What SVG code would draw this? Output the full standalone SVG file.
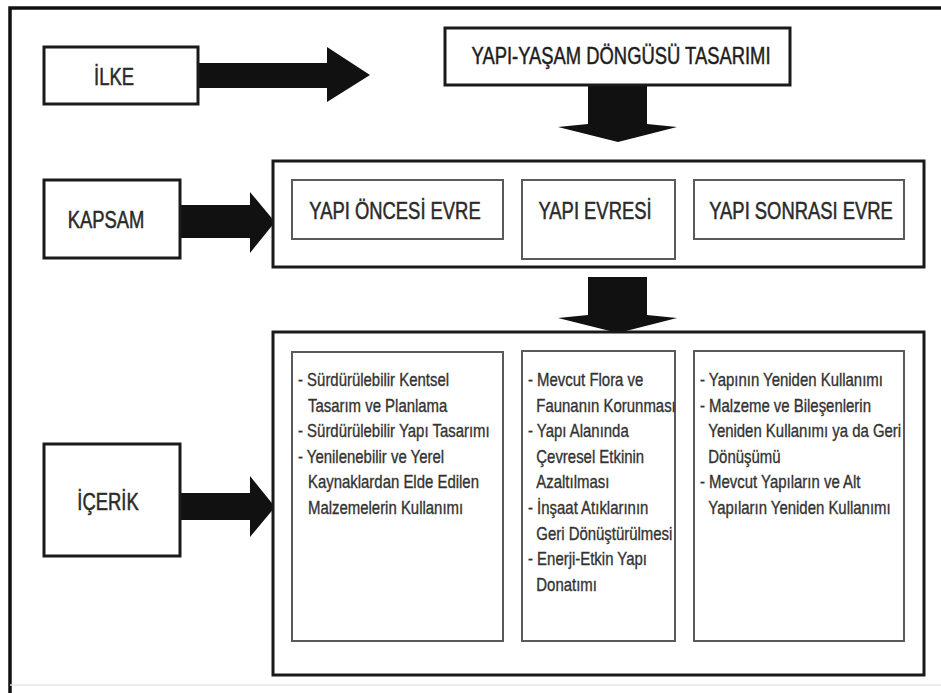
<svg xmlns="http://www.w3.org/2000/svg" width="941" height="693" viewBox="0 0 941 693">
<style>
.box{fill:#fff;stroke:#1a1a1a;stroke-width:3}
.inner{fill:#fff;stroke:#5a5a5a;stroke-width:2}
.arrow{fill:#111;stroke:none}
.h{font-family:"Liberation Sans",Arial,sans-serif;font-size:23px;fill:#2a2a2a;stroke:#2a2a2a;stroke-width:0.5;text-anchor:middle}
.c{font-family:"Liberation Sans",Arial,sans-serif;font-size:18px;fill:#333;stroke:#333;stroke-width:0.35}
</style>
<rect x="0" y="0" width="941" height="693" fill="#fff"/>
<g id="frame">
<path d="M10,693 V8 H941" fill="none" stroke="#111" stroke-width="3.5"/>
<line x1="10" y1="685" x2="941" y2="685" stroke="#e4e4e4" stroke-width="1.5"/>
</g>
<g id="connectors">
<polygon class="arrow" points="198,63 327,63 327,47 370,75 327,102 327,88 198,88"/>
<polygon class="arrow" points="180,205 250,205 250,192 275,222 250,253 250,238 180,238"/>
<polygon class="arrow" points="180,493 250,493 250,476 275,507 250,537 250,520 180,520"/>
<polygon class="arrow" points="588,85 647,85 647,124 677,127 618,142 558,127 588,124"/>
<polygon class="arrow" points="588,277 647,277 647,315 677,318 618,333 558,318 588,315"/>
</g>
<g id="ilke">
<rect class="box" x="44" y="47" width="154" height="57"/>
<text class="h" transform="translate(114,85) scale(0.8,1)">İLKE</text>
</g>
<g id="title">
<rect class="box" x="445" y="28" width="345" height="57"/>
<text class="h" transform="translate(621,64) scale(0.8,1)" style="fill:#1a1a1a">YAPI-YAŞAM DÖNGÜSÜ TASARIMI</text>
</g>
<g id="kapsam">
<rect class="box" x="44" y="180" width="136" height="78"/>
<text class="h" transform="translate(106,228) scale(0.8,1)">KAPSAM</text>
</g>
<g id="scope">
<rect class="box" x="273" y="161" width="651" height="106"/>
<g id="phase-pre">
<rect class="inner" x="292" y="180" width="211" height="59"/>
<text class="h" transform="translate(395,219) scale(0.8,1)">YAPI ÖNCESİ EVRE</text>
</g>
<g id="phase-build">
<rect class="inner" x="522" y="180" width="153" height="79"/>
<text class="h" transform="translate(595,219) scale(0.8,1)">YAPI EVRESİ</text>
</g>
<g id="phase-post">
<rect class="inner" x="694" y="180" width="210" height="59"/>
<text class="h" transform="translate(801,219) scale(0.8,1)">YAPI SONRASI EVRE</text>
</g>
</g>
<g id="icerik">
<rect class="box" x="44" y="444" width="136" height="112"/>
<text class="h" transform="translate(108,510) scale(0.8,1)">İÇERİK</text>
</g>
<g id="content">
<rect class="box" x="273" y="332" width="651" height="343"/>
<g id="content-pre">
<rect class="inner" x="292" y="352" width="211" height="289"/>
<g transform="translate(298,386) scale(0.83,1)">
<text class="c" x="0" y="0">- Sürdürülebilir Kentsel</text>
<text class="c" x="12" y="25.6">Tasarım ve Planlama</text>
<text class="c" x="0" y="51.2">- Sürdürülebilir Yapı Tasarımı</text>
<text class="c" x="0" y="76.8">- Yenilenebilir ve Yerel</text>
<text class="c" x="12" y="102.4">Kaynaklardan Elde Edilen</text>
<text class="c" x="12" y="128">Malzemelerin Kullanımı</text>
</g>
</g>
<g id="content-build">
<rect class="inner" x="522" y="351" width="153" height="290"/>
<g transform="translate(528,386) scale(0.83,1)">
<text class="c" x="0" y="0">- Mevcut Flora ve</text>
<text class="c" x="10" y="25.6">Faunanın Korunması</text>
<text class="c" x="0" y="51.2">- Yapı Alanında</text>
<text class="c" x="10" y="76.8">Çevresel Etkinin</text>
<text class="c" x="10" y="102.4">Azaltılması</text>
<text class="c" x="0" y="128">- İnşaat Atıklarının</text>
<text class="c" x="10" y="153.6">Geri Dönüştürülmesi</text>
<text class="c" x="0" y="179.2">- Enerji-Etkin Yapı</text>
<text class="c" x="10" y="204.8">Donatımı</text>
</g>
</g>
<g id="content-post">
<rect class="inner" x="694" y="351" width="210" height="290"/>
<g transform="translate(700,386) scale(0.83,1)">
<text class="c" x="0" y="0">- Yapının Yeniden Kullanımı</text>
<text class="c" x="0" y="25.6">- Malzeme ve Bileşenlerin</text>
<text class="c" x="10" y="51.2">Yeniden Kullanımı ya da Geri</text>
<text class="c" x="10" y="76.8">Dönüşümü</text>
<text class="c" x="0" y="102.4">- Mevcut Yapıların ve Alt</text>
<text class="c" x="10" y="128">Yapıların Yeniden Kullanımı</text>
</g>
</g>
</g>
</svg>
